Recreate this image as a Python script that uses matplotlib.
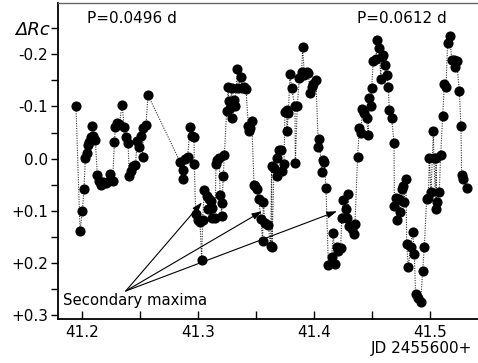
import numpy as np
import matplotlib
matplotlib.use("Agg")
import matplotlib.pyplot as plt
from matplotlib.ticker import MultipleLocator

# ── Dane: JD - 2455600, ΔRc (mag) ──
jd = [
    41.1948, 41.1983, 41.2003, 41.2017, 41.2029, 41.2040, 41.2055, 41.2063, 41.2075, 41.2089,
    41.2098, 41.2115, 41.2132, 41.2149, 41.2161, 41.2184, 41.2207, 41.2230, 41.2241, 41.2264,
    41.2279, 41.2287, 41.2305, 41.2322, 41.2345, 41.2365, 41.2379, 41.2397, 41.2408, 41.2420,
    41.2437, 41.2460, 41.2477, 41.2489, 41.2506, 41.2523, 41.2529, 41.2552, 41.2569,
    41.2845, 41.2868, 41.2874, 41.2888, 41.2911, 41.2931, 41.2945, 41.2966, 41.2968,
    41.2980, 41.2997, 41.3017, 41.3032, 41.3040, 41.3055, 41.3075, 41.3089, 41.3095, 41.3109,
    41.3118, 41.3124, 41.3147, 41.3155, 41.3167, 41.3184, 41.3190, 41.3204, 41.3207, 41.3218,
    41.3227, 41.3247, 41.3261, 41.3264, 41.3276, 41.3290, 41.3296, 41.3313, 41.3319, 41.3339,
    41.3348, 41.3371, 41.3379, 41.3397, 41.3414, 41.3434, 41.3443, 41.3448, 41.3463, 41.3483,
    41.3494, 41.3511, 41.3523, 41.3543, 41.3557, 41.3563, 41.3578, 41.3606, 41.3626, 41.3635,
    41.3638, 41.3655, 41.3678, 41.3681, 41.3698, 41.3716, 41.3721, 41.3741, 41.3750, 41.3764,
    41.3767, 41.3779, 41.3793, 41.3807, 41.3836, 41.3839, 41.3856, 41.3874, 41.3894, 41.3902,
    41.3917, 41.3937, 41.3951, 41.3966, 41.3980, 41.3994, 41.4017,
    41.4037, 41.4046, 41.4066, 41.4080, 41.4089, 41.4103, 41.4124, 41.4152, 41.4167, 41.4181,
    41.4195, 41.4210, 41.4218, 41.4230, 41.4239, 41.4253, 41.4276, 41.4282, 41.4296, 41.4305,
    41.4325, 41.4345, 41.4353, 41.4376, 41.4391, 41.4405, 41.4417, 41.4434, 41.4454, 41.4468,
    41.4477, 41.4491, 41.4497, 41.4511, 41.4534, 41.4546, 41.4563, 41.4575, 41.4583, 41.4592,
    41.4612, 41.4626, 41.4641, 41.4649, 41.4670, 41.4690, 41.4693, 41.4710, 41.4713, 41.4736,
    41.4741, 41.4756, 41.4770, 41.4776, 41.4793, 41.4799, 41.4813, 41.4833, 41.4851, 41.4865,
    41.4876, 41.4899, 41.4920, 41.4937, 41.4951, 41.4971, 41.4986, 41.4994, 41.5009, 41.5029,
    41.5034, 41.5049, 41.5052, 41.5057, 41.5080, 41.5092, 41.5109, 41.5124, 41.5138, 41.5152,
    41.5172, 41.5187, 41.5207, 41.5216, 41.5230, 41.5253, 41.5267, 41.5273, 41.5287, 41.5322,
]
drc = [
    -0.101, 0.138, 0.101, 0.059, -0.002, -0.010, -0.027, -0.031, -0.041, -0.063,
    -0.043, -0.036, 0.032, 0.043, 0.050, 0.045, 0.046, 0.043, 0.029, 0.043,
    -0.031, -0.060, -0.068, -0.067, -0.102, -0.060, -0.041, -0.030, 0.034, 0.024,
    0.015, 0.013, -0.034, -0.023, -0.044, -0.004, -0.058, -0.064, -0.122,
    0.006, 0.039, 0.021, 0.001, -0.004, -0.060, -0.043, -0.041, 0.010,
    0.107, 0.117, 0.121, 0.194, 0.117, 0.060, 0.072, 0.096, 0.078, 0.081,
    0.113, 0.094, 0.113, 0.011, 0.002, -0.001, 0.069, 0.110, 0.086, 0.034,
    -0.006, -0.091, -0.138, -0.111, -0.097, -0.135, -0.077, -0.112, -0.100, -0.171,
    -0.135, -0.157, -0.135, -0.138, -0.133, -0.063, -0.052, -0.058, -0.073, 0.050,
    0.053, 0.059, 0.078, 0.116, 0.159, 0.084, 0.124, 0.128, 0.167, 0.015,
    0.170, 0.018, 0.034, -0.001, -0.017, -0.017, 0.024, 0.011, -0.090, -0.093,
    -0.052, -0.087, -0.162, -0.135, -0.100, 0.008, -0.101, -0.154, -0.166, -0.214,
    -0.160, -0.166, -0.164, -0.126, -0.137, -0.144, -0.150,
    -0.023, -0.037, 0.025, 0.002, 0.007, 0.056, 0.204, 0.189, 0.143, 0.202,
    0.170, 0.177, 0.173, 0.172, 0.114, 0.080, 0.097, 0.113, 0.067, 0.130,
    0.135, 0.145, 0.126, -0.004, -0.058, -0.050, -0.095, -0.087, -0.077, -0.046,
    -0.117, -0.101, -0.135, -0.187, -0.192, -0.227, -0.213, -0.152, -0.195, -0.198,
    -0.179, -0.160, -0.137, -0.093, -0.077, -0.030, 0.091, 0.075, 0.118, 0.078,
    0.103, 0.059, 0.053, 0.084, 0.039, 0.164, 0.208, 0.169, 0.140, 0.183,
    0.260, 0.267, 0.276, 0.215, 0.170, 0.078, 0.075, -0.001, 0.064, -0.052,
    -0.001, 0.096, -0.001, 0.083, 0.065, -0.006, -0.081, -0.144, -0.137, -0.222,
    -0.236, -0.190, -0.189, -0.176, -0.187, -0.130, -0.062, 0.032, 0.040, 0.057,
]

ytick_vals   = [-0.2, -0.1, 0.0, 0.1, 0.2, 0.3]
ytick_labels = ["-0.2", "-0.1", "0.0", "+0.1", "+0.2", "+0.3"]

# Strzałki "Secondary maxima": początek i cele (JD, ΔRc)
arrow_start   = (41.2377, 0.254)
arrow_targets = [(41.3034, 0.084), (41.3552, 0.101), (41.4198, 0.101)]

W, H = 478, 363
fig = plt.figure(figsize=(W / 100, H / 100), dpi=100)
ax = fig.add_axes([58 / W, 44 / H, 420 / W, 316 / H])

ax.plot(jd, drc, linestyle=(0, (1, 1.2)), color="#333333", lw=0.8, zorder=1)
ax.plot(jd, drc, "o", color="black", ms=6.3, zorder=2)

ax.set_xlim(41.1793, 41.5414)
ax.set_ylim(0.3077, -0.2985)

ax.xaxis.set_major_locator(MultipleLocator(0.1))
ax.xaxis.set_minor_locator(MultipleLocator(0.05))
ax.xaxis.set_major_formatter(plt.FuncFormatter(lambda v, p: f"{v:.1f}"))
ax.set_yticks(ytick_vals)
ax.set_yticklabels(ytick_labels)
ax.yaxis.set_minor_locator(MultipleLocator(0.05))

ax.tick_params(axis="x", which="both", direction="in", length=6, width=1, labelsize=11, pad=4)
ax.tick_params(axis="y", which="both", direction="out", length=5, width=1, labelsize=11, pad=2)

for s in ("left", "bottom"):
    ax.spines[s].set_linewidth(1.3)
ax.spines["top"].set_color("#666666")
ax.spines["top"].set_linewidth(1.0)
ax.spines["right"].set_visible(False)

ax.text(0.175, 0.952, "P=0.0496 d", transform=ax.transAxes, ha="center", va="center", fontsize=11)
ax.text(0.818, 0.952, "P=0.0612 d", transform=ax.transAxes, ha="center", va="center", fontsize=11)
ax.text(0.012, 0.060, "Secondary maxima", transform=ax.transAxes, ha="left", va="center", fontsize=10.7)

for tx, ty in arrow_targets:
    ax.annotate("", xy=(tx, ty), xytext=arrow_start,
                arrowprops=dict(arrowstyle="-|>,head_length=0.6,head_width=0.2",
                                color="black", lw=0.8, shrinkA=0, shrinkB=0))

fig.text(32.5 / W, 1 - 30 / H, "ΔRc", style="italic", fontsize=13, ha="center", va="center")
fig.text(472 / W, 1 - 349 / H, "JD 2455600+", fontsize=11, ha="right", va="center")

fig.savefig("out.png", dpi=100)
